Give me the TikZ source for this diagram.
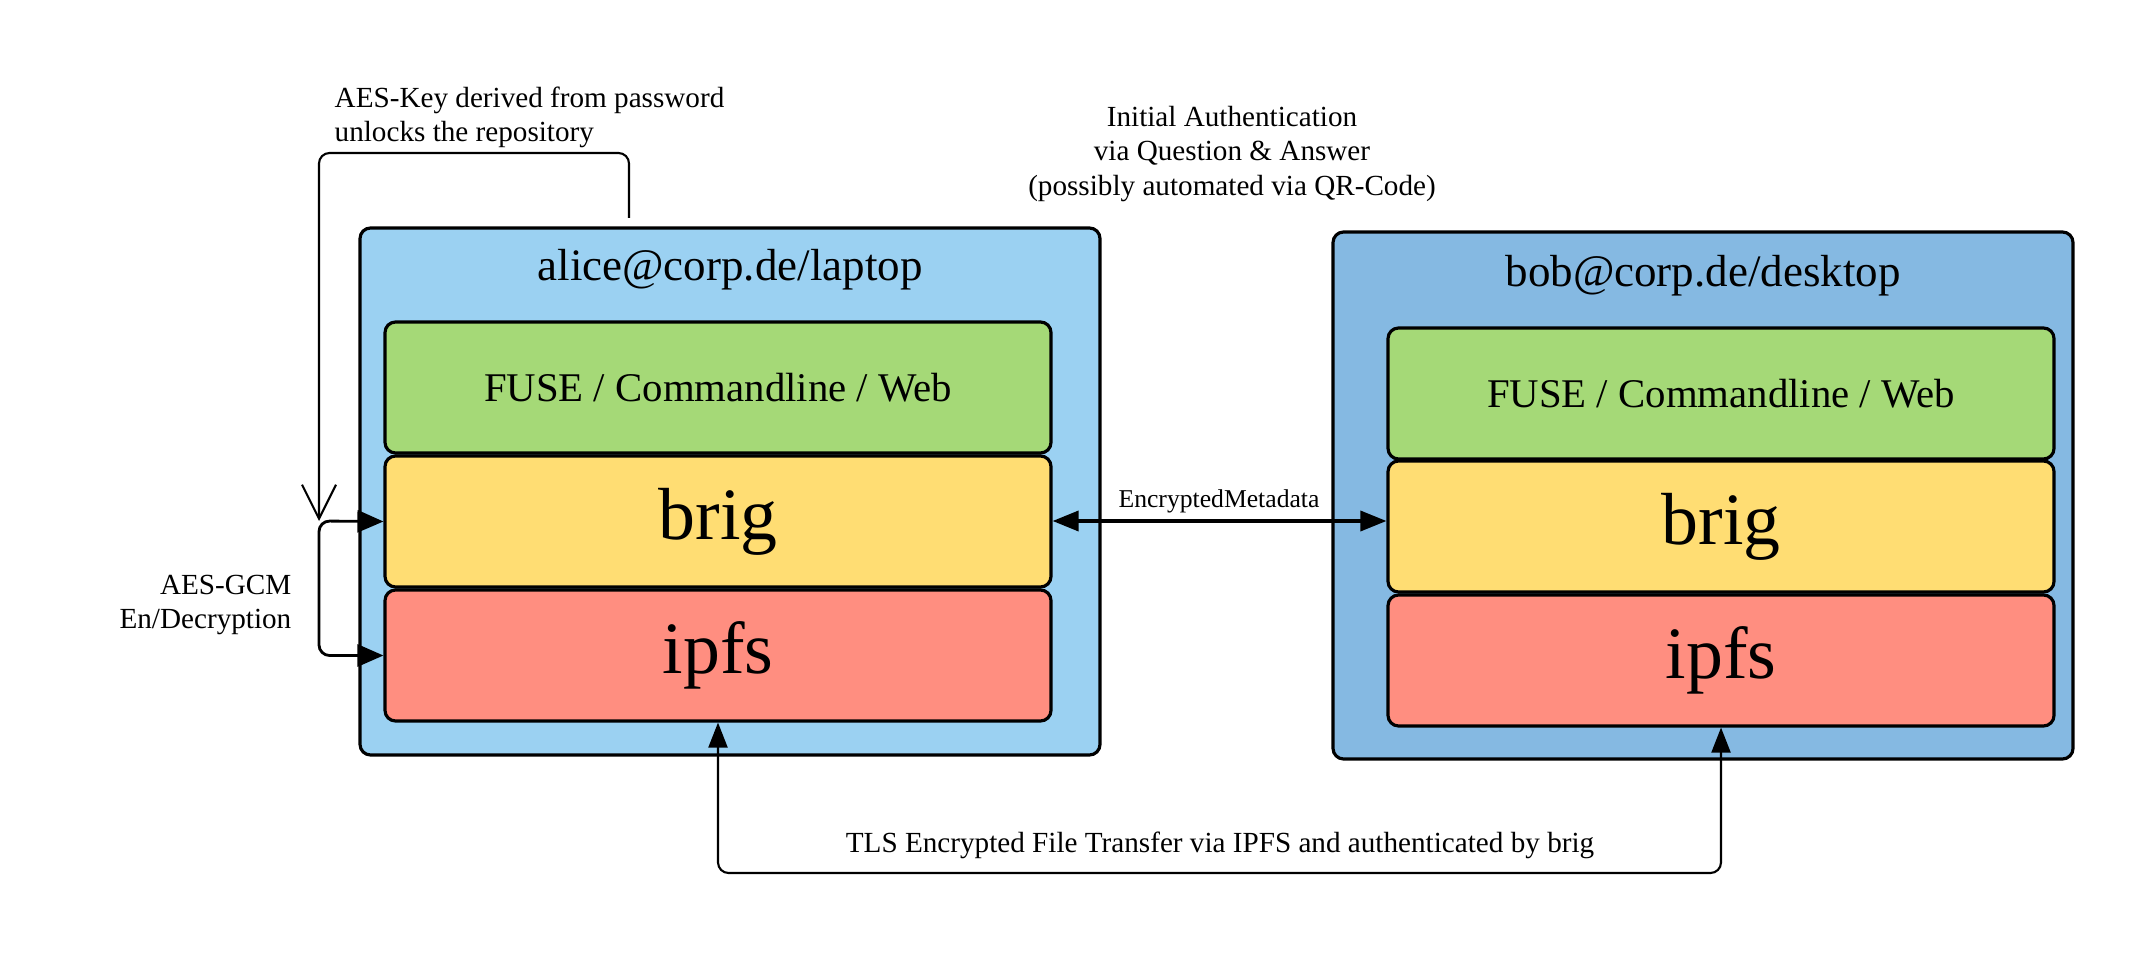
\documentclass[tikz,border=0pt]{standalone}
\usepackage{fontspec}
\setmainfont{Liberation Serif}
\usetikzlibrary{arrows.meta}

\definecolor{laptopblue}{RGB}{155,209,242}
\definecolor{desktopblue}{RGB}{133,185,226}
\definecolor{fusegreen}{RGB}{165,217,119}
\definecolor{briggold}{RGB}{255,221,115}
\definecolor{ipfsred}{RGB}{255,142,128}

\tikzset{
  host/.style={draw, line width=0.9pt, rounded corners=3pt, inner sep=0pt,
    minimum width=7.40cm, minimum height=5.27cm},
  layer/.style={draw, line width=0.9pt, rounded corners=3pt, inner sep=0pt,
    minimum width=6.66cm, minimum height=1.31cm},
  hostname/.style={font=\fontsize{12.8}{15}\selectfont},
  uilabel/.style={font=\fontsize{11.6}{14}\selectfont},
  biglabel/.style={font=\fontsize{21}{25}\selectfont},
  note/.style={font=\fontsize{8.3}{9.8}\selectfont, inner sep=0pt},
  wire/.style={line width=0.6pt, rounded corners=3pt},
  tip/.style={-{Triangle[length=2.5mm,width=1.9mm]}}
}

\begin{document}
\begin{tikzpicture}
  \useasboundingbox (0,0) rectangle (21.4,-9.62);

  % laptop
  \node[host, fill=laptopblue] (alice) at (7.30,-4.915) {};
  \node[hostname] (alicename) at (7.30,-2.70) {alice@corp.de/laptop};
  \node[layer, fill=fusegreen, uilabel] (afuse) at (7.18,-3.875) {FUSE / Commandline / Web};
  \node[layer, fill=briggold, biglabel] (abrig) at (7.18,-5.215) {brig};
  \node[layer, fill=ipfsred, biglabel] (aipfs) at (7.18,-6.555) {ipfs};

  % desktop
  \node[host, fill=desktopblue] (bob) at (17.03,-4.955) {};
  \node[hostname] (bobname) at (17.03,-2.76) {bob@corp.de/desktop};
  \node[layer, fill=fusegreen, uilabel] (bfuse) at (17.21,-3.935) {FUSE / Commandline / Web};
  \node[layer, fill=briggold, biglabel] (bbrig) at (17.21,-5.265) {brig};
  \node[layer, fill=ipfsred, biglabel] (bipfs) at (17.21,-6.605) {ipfs};

  % notes
  \node[note, align=left, anchor=north west] (keynote) at (3.34,-0.86)
    {AES-Key derived from password\\unlocks the repository};
  \node[note, align=right, anchor=east] (gcmnote) at (2.92,-6.05)
    {AES-GCM\\En/Decryption};
  \node[note, align=center] (authnote) at (12.32,-1.54)
    {Initial Authentication\\via Question \& Answer\\(possibly automated via QR-Code)};
  \node[note, font=\fontsize{7.3}{9}\selectfont] (metanote) at (12.19,-5.01) {EncryptedMetadata};
  \node[note] (tlsnote) at (12.20,-8.45)
    {TLS Encrypted File Transfer via IPFS and authenticated by brig};

  \coordinate (keystart) at (6.29,-2.18);
  \coordinate (aesjoin) at (3.19,-5.21);
  \coordinate (tlsleft) at (7.18,-8.73);

  % connectors
  \draw[wire, -{Straight Barb[length=3.4mm,width=3.4mm]}]
    (keystart) -- (6.29,-1.53) -| (aesjoin);
  \draw[wire, line width=0.8pt, {Triangle[length=2.6mm,width=2.2mm]}-{Triangle[length=2.6mm,width=2.2mm]}]
    (abrig.west) -- (aesjoin) |- (aipfs.west);
  \draw[line width=1pt, {Triangle[length=2.6mm,width=2mm]}-{Triangle[length=2.6mm,width=2mm]}]
    (abrig.east |- aesjoin) -- (bbrig.west |- aesjoin);
  \draw[wire, {Triangle[length=2.5mm,width=1.9mm]}-{Triangle[length=2.5mm,width=1.9mm]}]
    (aipfs.south) -- (tlsleft) -| (bipfs.south);
\end{tikzpicture}
\end{document}
